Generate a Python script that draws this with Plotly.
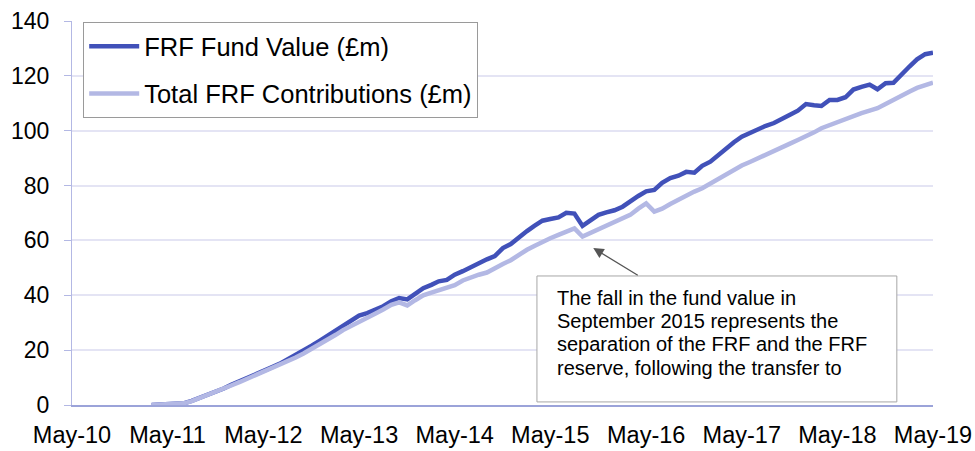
import pandas as pd
import plotly.graph_objects as go

# monthly observations, Mar-11 .. May-19
MONTHS = pd.date_range("2011-03-01", "2019-05-01", freq="MS")

FUND_VALUE = [
    0.0, 0.1, 0.2, 0.4, 0.6, 1.5, 2.6, 3.8, 5.0, 6.0,
    7.5, 8.7, 9.9, 11.2, 12.5, 13.7, 15.0, 16.6, 18.2, 19.8,
    21.6, 23.4, 25.3, 27.0, 28.8, 30.8, 32.6, 33.5, 34.6, 36.0,
    37.8, 39.0, 38.5, 40.6, 42.6, 43.8, 45.1, 45.6, 47.5, 48.8,
    50.3, 51.8, 53.1, 54.3, 57.2, 58.7, 61.2, 63.4, 65.3, 67.2,
    67.8, 68.4, 70.1, 69.8, 65.3, 67.5, 69.3, 70.2, 71.0, 72.3,
    74.3, 76.2, 77.9, 78.4, 81.0, 82.7, 83.6, 85.0, 84.7, 87.2,
    88.7, 91.2, 93.5, 95.8, 97.8, 99.2, 100.6, 101.8, 102.8, 104.5,
    105.8, 107.3, 109.7, 109.3, 109.0, 111.2, 111.2, 112.2, 115.0, 116.0,
    116.8, 115.1, 117.3, 117.5, 120.8, 123.5, 126.0, 127.9, 128.4,
]

CONTRIBUTIONS = [
    0.0, 0.1, 0.2, 0.4, 0.6, 1.4, 2.5, 3.7, 4.8, 5.8,
    7.2, 8.4, 9.6, 10.8, 12.0, 13.2, 14.4, 15.8, 17.3, 18.8,
    20.4, 22.0, 23.8, 25.6, 27.3, 28.9, 30.6, 31.9, 33.3, 34.8,
    36.5, 37.4, 36.3, 38.2, 40.0, 41.0, 41.9, 42.8, 43.7, 45.4,
    46.6, 47.5, 48.3, 50.0, 51.4, 52.8, 54.8, 56.6, 58.0, 59.6,
    60.8, 62.0, 63.3, 64.4, 61.4, 62.7, 63.8, 65.0, 66.4, 67.8,
    69.3, 71.6, 73.5, 70.5, 71.6, 73.3, 74.9, 76.4, 77.8, 79.0,
    80.8, 82.4, 84.0, 85.7, 87.3, 88.6, 90.0, 91.3, 92.7, 94.0,
    95.3, 96.6, 97.8, 99.4, 100.9, 102.0, 103.4, 104.5, 105.4, 106.4,
    107.3, 108.2, 109.7, 111.3, 113.0, 114.3, 115.6, 116.7, 117.5,
]

NOTE_LINES = [
    "The fall in the fund value in",
    "September 2015 represents the",
    "separation of the FRF and the FRF",
    "reserve, following the transfer to",
]

FONT = "Arial, 'Liberation Sans', sans-serif"
DARK = "#4151b9"
LIGHT = "#b3b8e4"

fig = go.Figure()
fig.add_trace(go.Scatter(
    x=MONTHS, y=FUND_VALUE, mode="lines", name="FRF Fund Value (£m)",
    legendgroup="a", line=dict(color=DARK, width=4.5),
))
fig.add_trace(go.Scatter(
    x=MONTHS, y=CONTRIBUTIONS, mode="lines", name="Total FRF Contributions (£m)",
    legendgroup="b", line=dict(color=LIGHT, width=4.5),
))

# note box, drawn over the gridlines
fig.add_shape(
    type="rect", xref="paper", yref="paper",
    x0=0.540, x1=0.958, y0=0.008, y1=0.336,
    fillcolor="white", line=dict(color="#a6a6a6", width=1), layer="above",
)
for i, text in enumerate(NOTE_LINES):
    fig.add_annotation(
        text=text, xref="paper", yref="paper", x=0.561, y=0.279 - i * 0.0607,
        xanchor="left", yanchor="middle", showarrow=False,
        font=dict(family=FONT, size=20, color="black"),
    )
fig.add_annotation(
    x="2015-10-12", y=57.2, ax=46, ay=28, text="", showarrow=True,
    arrowhead=2, arrowsize=1.6, arrowwidth=1.3, arrowcolor="#555555",
)

fig.update_xaxes(
    range=["2010-05-01", "2019-05-01"], tick0="2010-05-01", dtick="M12",
    tickformat="%b-%y", showgrid=False, showline=True, linecolor="#9ba3d9",
    linewidth=2, ticks="", ticklabelstandoff=8, automargin=False,
    tickfont=dict(family=FONT, size=23.5, color="black"),
)
fig.update_yaxes(
    range=[0, 140], dtick=20, showgrid=True, gridcolor="#e4e4f4", gridwidth=2,
    showline=True, linecolor="#b3b8e4", linewidth=1, ticks="outside",
    ticklen=7, tickcolor="#b3b8e4", ticklabelstandoff=10, zeroline=False,
    automargin=False, tickfont=dict(family=FONT, size=23, color="black"),
)
fig.update_layout(
    width=975, height=451, paper_bgcolor="white", plot_bgcolor="white",
    margin=dict(l=72, r=42, t=21, b=46),
    font=dict(family=FONT, color="black"),
    legend=dict(
        x=0.013, y=0.997, xanchor="left", yanchor="top",
        bgcolor="white", bordercolor="#9a9a9a", borderwidth=1,
        font=dict(family=FONT, size=25.5, color="black"),
        traceorder="grouped", tracegroupgap=11, itemwidth=50,
    ),
    showlegend=True,
)

# drop the default 8px body margin so the figure fills the window exactly
fig.write_html(
    "out.html",
    config={"displayModeBar": False},
    post_script="document.body.style.margin = '0';",
)
